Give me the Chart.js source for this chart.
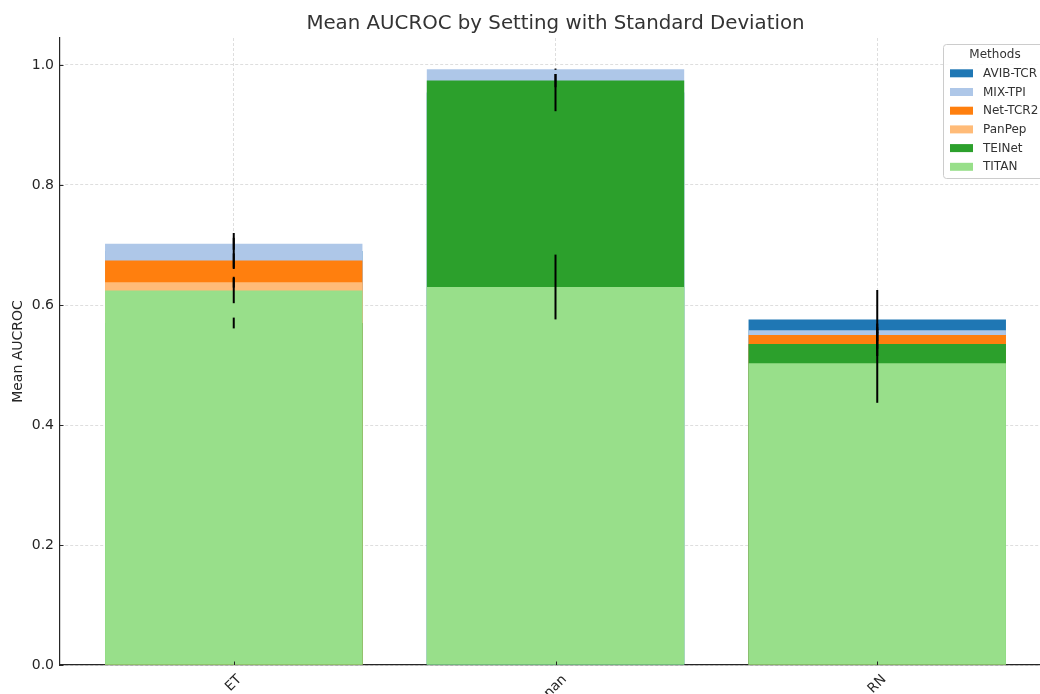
<!DOCTYPE html>
<html>
<head>
<meta charset="utf-8">
<title>Mean AUCROC by Setting</title>
<script src="https://cdn.jsdelivr.net/npm/chart.js@4.4.1/dist/chart.umd.min.js"></script>
<style>
  html, body { margin: 0; padding: 0; background: #ffffff; overflow: hidden; }
  #wrap { width: 1110px; height: 720px; }
</style>
</head>
<body>
<div id="wrap"><canvas id="chart" width="1110" height="720"></canvas></div>
<script>
// Settings on the x axis and the methods compared in each one
const settings = ['ET', 'nan', 'RN'];
const methods = ['AVIB-TCR', 'MIX-TPI', 'Net-TCR2', 'PanPep', 'TEINet', 'TITAN'];

// Mean AUCROC per setting (ET, nan, RN); null where a method was not run
const avibMean  = [0.690, 0.954, 0.576];
const mixMean   = [0.702, 0.993, 0.558];
const netMean   = [0.674, null,  0.550];
const panMean   = [0.638, null,  null];
const teiMean   = [0.570, 0.974, 0.535];
const titanMean = [0.624, 0.630, 0.503];

// Standard deviation of AUCROC per setting
const avibStd  = [0.030, 0.031, 0.049];
const mixStd   = [0.010, 0.001, 0.005];
const netStd   = [0.012, null,  0.010];
const panStd   = [0.009, null,  null];
const teiStd   = [0.009, 0.011, 0.020];
const titanStd = [0.021, 0.054, 0.066];

// Y axis tick values
const yTicks = [0.0, 0.2, 0.4, 0.6, 0.8, 1.0];

const chartTitle = 'Mean AUCROC by Setting with Standard Deviation';

const means = [avibMean, mixMean, netMean, panMean, teiMean, titanMean];
const stds = [avibStd, mixStd, netStd, panStd, teiStd, titanStd];
const colors = ['#1f77b4', '#aec7e8', '#ff7f0e', '#ffbb78', '#2ca02c', '#98df8a'];

const FONT = "'DejaVu Sans', 'Liberation Sans', sans-serif";
const GRID = 'rgba(200,200,200,0.75)';
const INK = '#262626';

// Bars of all methods overlap at each setting; later methods are painted on top
const datasets = methods.map((name, k) => ({
  label: name,
  data: settings
    .map((s, i) => ({ x: i, y: means[k][i] }))
    .filter(p => p.y !== null),
  backgroundColor: colors[k],
  borderWidth: 0,
  grouped: false,
  categoryPercentage: 1.0,
  barPercentage: 0.8,
  order: methods.length - 1 - k
}));

// Title, inward tick marks, error bars, rotated category labels and the boxed legend
const overlay = {
  id: 'overlay',
  afterDraw(chart) {
    const ctx = chart.ctx;
    const xs = chart.scales.x;
    const ys = chart.scales.y;
    const area = chart.chartArea;

    // title centred over the plot area
    ctx.save();
    ctx.font = '19.8px ' + FONT;
    ctx.fillStyle = '#333333';
    ctx.textAlign = 'center';
    ctx.textBaseline = 'middle';
    ctx.fillText(chartTitle, (area.left + area.right) / 2, 24);
    ctx.restore();

    // short tick marks pointing into the plot
    ctx.save();
    ctx.strokeStyle = INK;
    ctx.lineWidth = 1;
    ys.ticks.forEach((t, i) => {
      const y = Math.round(ys.getPixelForTick(i)) + 0.5;
      ctx.beginPath();
      ctx.moveTo(area.left, y);
      ctx.lineTo(area.left + 3.5, y);
      ctx.stroke();
    });
    xs.ticks.forEach((t, i) => {
      const x = Math.round(xs.getPixelForTick(i)) + 0.5;
      ctx.beginPath();
      ctx.moveTo(x, area.bottom);
      ctx.lineTo(x, area.bottom - 3.5);
      ctx.stroke();
    });
    ctx.restore();

    // error bars: mean ± std
    ctx.save();
    ctx.strokeStyle = '#000000';
    ctx.lineWidth = 2;
    ctx.lineCap = 'butt';
    means.forEach((series, k) => {
      series.forEach((m, i) => {
        const s = stds[k][i];
        if (m === null || s === null) return;
        const x = xs.getPixelForValue(i);
        ctx.beginPath();
        ctx.moveTo(x, ys.getPixelForValue(m - s));
        ctx.lineTo(x, ys.getPixelForValue(m + s));
        ctx.stroke();
      });
    });
    ctx.restore();

    // category labels, rotated 45 degrees and centred under each tick
    ctx.save();
    const fs = 13.5;
    ctx.font = fs + 'px ' + FONT;
    ctx.fillStyle = INK;
    ctx.textAlign = 'center';
    ctx.textBaseline = 'middle';
    settings.forEach((label, i) => {
      const x = xs.getPixelForValue(i);
      const w = ctx.measureText(label).width;
      const side = (w + fs * 1.15) / Math.SQRT2;
      const cy = area.bottom + 7 + side / 2;
      ctx.save();
      ctx.translate(x, cy);
      ctx.rotate(-Math.PI / 4);
      ctx.fillText(label, 0, 0);
      ctx.restore();
    });
    ctx.restore();

    // legend box in the upper right corner of the plot
    ctx.save();
    const lfs = 12;
    ctx.font = lfs + 'px ' + FONT;
    const rowH = 18.7;
    const boxW = 104, boxH = 134;
    const bx = area.right - 4 - boxW;
    const by = area.top + 6;
    ctx.fillStyle = 'rgba(255,255,255,0.85)';
    ctx.strokeStyle = '#cccccc';
    ctx.lineWidth = 1;
    ctx.beginPath();
    ctx.roundRect(Math.round(bx) + 0.5, Math.round(by) + 0.5, boxW, boxH, 3);
    ctx.fill();
    ctx.stroke();
    ctx.fillStyle = '#333333';
    ctx.textAlign = 'center';
    ctx.textBaseline = 'middle';
    ctx.fillText('Methods', bx + boxW / 2, by + 11);
    ctx.textAlign = 'left';
    chart.data.datasets.forEach((ds, k) => {
      const cy = by + 29.3 + k * rowH;
      ctx.fillStyle = ds.backgroundColor;
      ctx.fillRect(bx + 7, cy - 4, 23, 8);
      ctx.fillStyle = '#333333';
      ctx.fillText(ds.label, bx + 40, cy + 0.5);
    });
    ctx.restore();
  }
};

new Chart(document.getElementById('chart'), {
  type: 'bar',
  data: { datasets },
  plugins: [overlay],
  options: {
    responsive: false,
    animation: false,
    events: [],
    layout: { padding: { top: 38, right: 59, bottom: 0, left: 0 } },
    plugins: {
      legend: { display: false },
      tooltip: { enabled: false },
      title: { display: false }
    },
    scales: {
      x: {
        type: 'linear',
        min: -0.54,
        max: 2.54,
        offset: false,
        z: 1,
        afterBuildTicks: (scale) => { scale.ticks = settings.map((s, i) => ({ value: i })); },
        afterFit: (scale) => { scale.height = 55; },
        ticks: { display: false },
        grid: {
          offset: false,
          color: GRID,
          lineWidth: 0.8,
          drawTicks: false
        },
        border: { display: true, color: INK, width: 1.2, dash: [3, 2] }
      },
      y: {
        min: 0,
        max: 1.045,
        z: 1,
        afterBuildTicks: (scale) => { scale.ticks = yTicks.map(v => ({ value: v })); },
        afterFit: (scale) => { scale.width = 60; },
        ticks: {
          color: INK,
          padding: 6,
          font: { family: FONT, size: 14 },
          callback: (v) => Number(v).toFixed(1)
        },
        grid: {
          color: GRID,
          lineWidth: 0.8,
          drawTicks: false
        },
        border: { display: true, color: INK, width: 1.2, dash: [3, 2] },
        title: {
          display: true,
          text: 'Mean AUCROC',
          color: INK,
          font: { family: FONT, size: 14, lineHeight: 1.2 },
          padding: { top: 10, bottom: 0 }
        }
      }
    }
  }
});
</script>
</body>
</html>
